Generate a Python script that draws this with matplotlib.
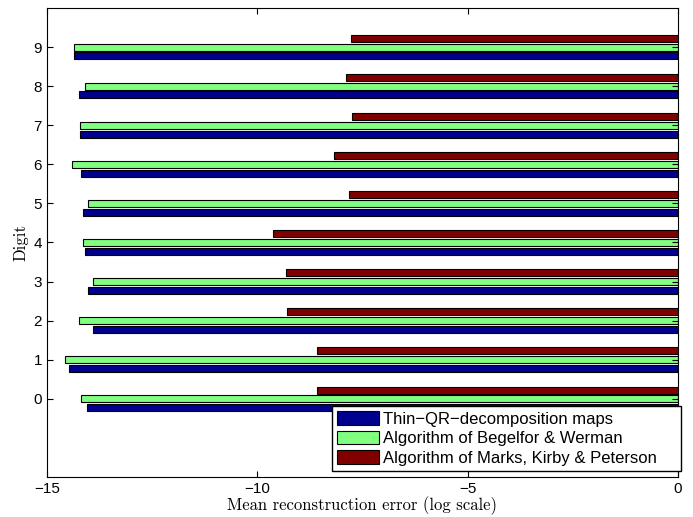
import numpy as np
import matplotlib
matplotlib.use("Agg")
import matplotlib.pyplot as plt

# data (log-scale errors)
digits = [0, 1, 2, 3, 4, 5, 6, 7, 8, 9]
thin_qr = [-14.04, -14.48, -13.90, -14.02, -14.10, -14.14, -14.19, -14.22, -14.25, -14.35]
begelfor = [-14.18, -14.58, -14.23, -13.91, -14.14, -14.02, -14.40, -14.22, -14.09, -14.36]
marks = [-8.59, -8.57, -9.29, -9.32, -9.63, -7.81, -8.18, -7.74, -7.90, -7.78]
labels = ["Thin\u2212QR\u2212decomposition maps",
          "Algorithm of Begelfor & Werman",
          "Algorithm of Marks, Kirby & Peterson"]
colors = ["#00008F", "#80FF80", "#800000"]

plt.rcParams['font.family'] = ['Liberation Sans', 'DejaVu Sans']

fig = plt.figure(figsize=(6.93, 5.17), dpi=100)
ax = fig.add_axes([0.0678, 0.0774, 0.9105, 0.9071])

y = np.array(digits, dtype=float)
off = 0.225
h = 0.18
for k, (vals, lab, c) in enumerate(zip([thin_qr, begelfor, marks], labels, colors)):
    ax.barh(y + (k - 1) * off, vals, height=h, color=c, edgecolor="black",
            linewidth=0.8, label=lab)

ax.set_xlim(-15, 0)
ax.set_ylim(-2, 10)
ax.set_xticks([-15, -10, -5, 0])
ax.set_xticklabels(["\u221215", "\u221210", "\u22125", "0"])
ax.set_yticks(digits)
ax.tick_params(direction="in", top=True, right=True, labelsize=11, length=4)
ax.set_xlabel("Mean reconstruction error (log scale)", family="cmr10", fontsize=12, labelpad=0)
ax.set_ylabel("Digit", family="cmr10", fontsize=12, labelpad=4)

leg = ax.legend(loc="lower left", bbox_to_anchor=(0.4517, 0.0128, 0.553, 0.132),
                mode="expand", fontsize=12,
                frameon=True, fancybox=False, edgecolor="black", framealpha=1,
                handlelength=2.5, handleheight=0.87, borderpad=0.3,
                labelspacing=0.25, handletextpad=0.25, borderaxespad=0)
leg.get_frame().set_linewidth(1.0)

fig.savefig("out.png", dpi=100)
